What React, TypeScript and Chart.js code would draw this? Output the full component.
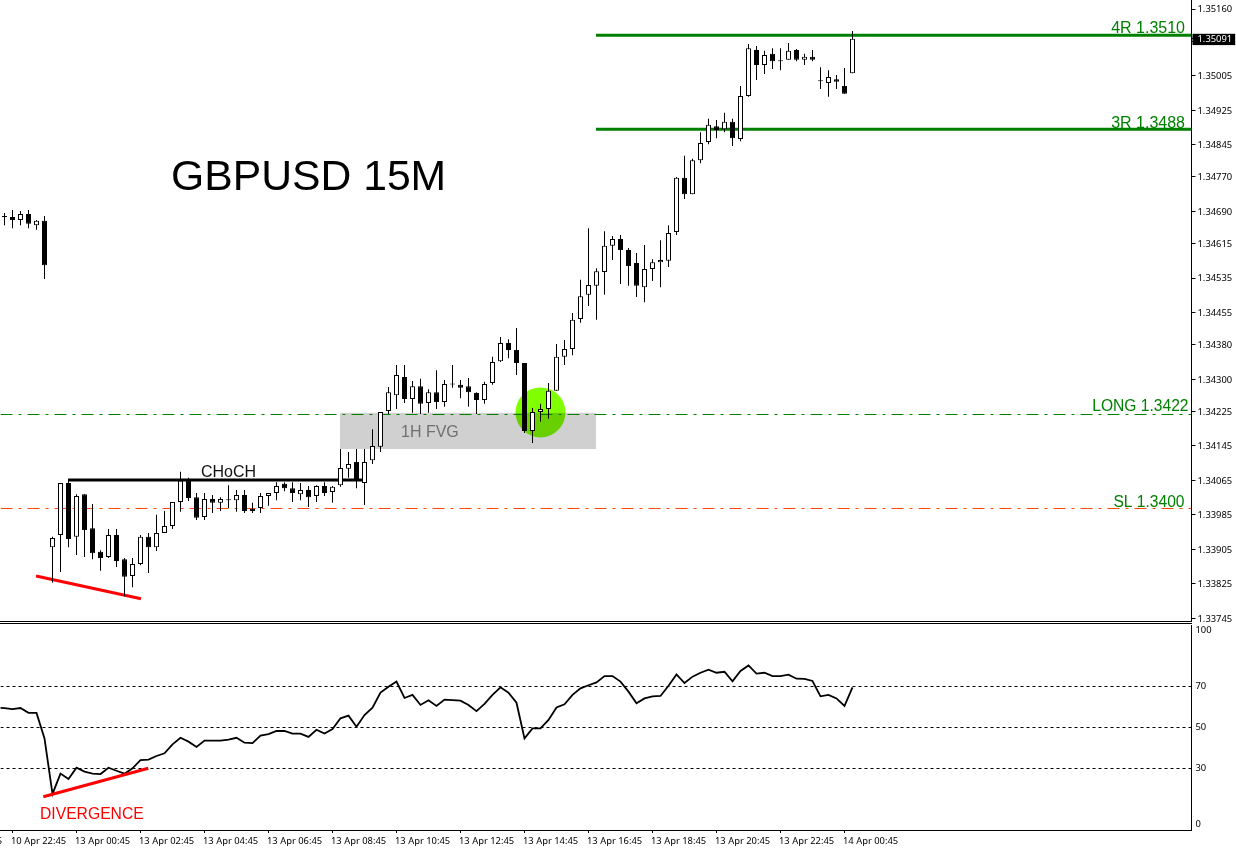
import { useEffect, useRef } from "react"
import { Chart, registerables } from "chart.js"

Chart.register(...registerables)

// prices in points (1/100000)
const opens = [
  134677, 134677, 134670, 134684, 134658, 134668, 133910, 133938, 134059, 133934, 134033, 133954, 133899, 133887,
  133938, 133882, 133843, 133871, 133934, 133910, 133943, 133959, 134015, 134064, 134026, 133980, 134022, 134013,
  134019, 134019, 134031, 133999, 134001, 134029, 134036, 134057, 134047, 134033, 134043, 134029, 134052, 134038,
  134054, 134092, 134108, 134059, 134112, 134143, 134226, 134263, 134305, 134254, 134284, 134245, 134270, 134247,
  134289, 134287, 134284, 134268, 134252, 134291, 134342, 134384, 134368, 134338, 134180, 134224, 134231, 134273,
  134352, 134370, 134440, 134496, 134517, 134549, 134610, 134626, 134600, 134570, 134514, 134556, 134572, 134575,
  134642, 134768, 134730, 134809, 134851, 134888, 134881, 134898, 134858, 134958, 135065, 135030, 135056, 135039,
  135042, 135065, 135042, 135049, 134993, 134988, 134997, 134981, 135011,
]
const closes = [
  134678, 134670, 134684, 134661, 134668, 134565, 133931, 134059, 133929, 134029, 133950, 133896, 133885, 133938,
  133878, 133841, 133871, 133934, 133910, 133943, 133959, 134015, 134064, 134024, 133978, 134022, 134013, 134022,
  134020, 134031, 133994, 133994, 134029, 134036, 134052, 134047, 134036, 134043, 134026, 134052, 134036, 134050,
  134094, 134103, 134068, 134108, 134145, 134224, 134270, 134310, 134254, 134284, 134243, 134270, 134247, 134289,
  134288, 134280, 134270, 134252, 134289, 134340, 134384, 134368, 134338, 134180, 134224, 134231, 134273, 134352,
  134370, 134438, 134493, 134519, 134551, 134610, 134626, 134600, 134563, 134517, 134556, 134572, 134577, 134640,
  134768, 134730, 134809, 134849, 134891, 134879, 134898, 134860, 134958, 135069, 135030, 135053, 135039, 135040,
  135063, 135042, 135049, 135042, 134992, 135002, 134991, 134963, 135091,
]
const highs = [
  134686, 134693, 134691, 134693, 134670, 134679, 133934, 134059, 134064, 134033, 134033, 134010, 133903, 133952,
  133952, 133885, 133885, 133938, 133943, 133985, 133994, 134015, 134085, 134071, 134036, 134036, 134031, 134026,
  134054, 134043, 134043, 134013, 134036, 134036, 134061, 134061, 134061, 134059, 134052, 134054, 134061, 134052,
  134138, 134131, 134138, 134138, 134184, 134224, 134282, 134333, 134333, 134296, 134301, 134277, 134321, 134298,
  134333, 134298, 134303, 134270, 134294, 134352, 134398, 134393, 134419, 134338, 134233, 134243, 134291, 134382,
  134391, 134454, 134531, 134651, 134558, 134644, 134633, 134635, 134605, 134593, 134612, 134579, 134623, 134658,
  134770, 134819, 134812, 134874, 134905, 134902, 134919, 134905, 134981, 135079, 135074, 135063, 135069, 135069,
  135081, 135067, 135056, 135065, 135025, 135018, 135007, 135023, 135109,
]
const lows = [
  134658, 134651, 134658, 134651, 134647, 134533, 133827, 133852, 133910, 133892, 133887, 133882, 133855, 133885,
  133864, 133796, 133817, 133868, 133850, 133901, 133943, 133952, 133992, 134017, 133973, 133973, 133989, 133994,
  134001, 133992, 133989, 133989, 133989, 134006, 134019, 134040, 134015, 134019, 134003, 134015, 134029, 134013,
  134050, 134071, 134047, 134008, 134103, 134131, 134219, 134231, 134245, 134222, 134219, 134222, 134231, 134236,
  134280, 134256, 134236, 134219, 134243, 134287, 134340, 134349, 134310, 134175, 134152, 134201, 134208, 134273,
  134333, 134356, 134431, 134470, 134438, 134496, 134577, 134521, 134517, 134491, 134479, 134528, 134514, 134561,
  134635, 134719, 134730, 134802, 134846, 134860, 134874, 134842, 134853, 134956, 134995, 135009, 135021, 135018,
  135042, 135039, 135030, 135039, 134974, 134956, 134974, 134963, 135011,
]
// first value belongs to the bar just left of the window
const rsi = [
  59.6, 59.5, 59.0, 59.5, 57.2, 57.1, 44.7, 17.6, 27.5, 24.9, 30.4, 28.5, 27.5, 27.3, 30.4, 28.9, 27.5, 30.1, 34.1,
  34.3, 36.1, 37.4, 41.8, 45.0, 43.1, 40.5, 43.6, 43.6, 43.6, 44.1, 45.0, 42.6, 42.4, 46.0, 46.8, 48.3, 48.4, 47.0,
  47.0, 45.4, 48.9, 47.1, 49.3, 54.5, 55.8, 50.4, 56.1, 59.7, 67.0, 69.9, 72.4, 64.4, 65.9, 61.0, 63.3, 60.5, 63.6,
  63.4, 63.1, 61.0, 58.0, 61.5, 65.9, 69.6, 67.0, 62.1, 44.7, 49.6, 49.6, 53.7, 59.8, 61.3, 65.9, 69.1, 70.6, 72.0,
  75.1, 75.1, 72.4, 67.5, 61.8, 64.2, 65.2, 65.4, 70.4, 75.9, 71.7, 74.8, 76.7, 78.2, 76.7, 77.2, 72.5, 77.6, 80.3,
  76.3, 76.7, 75.1, 75.1, 75.8, 73.8, 73.7, 72.7, 65.2, 65.9, 64.2, 60.5, 69.6,
]

const priceTicks = [
  1.3516, 1.35085, 1.35005, 1.34925, 1.34845, 1.3477, 1.3469, 1.34615, 1.34535, 1.34455, 1.3438, 1.343, 1.34225,
  1.34145, 1.34065, 1.33985, 1.33905, 1.33825, 1.33745,
]
const lastPrice = 1.35091
const timeTickBars = [-7, 1, 9, 17, 25, 33, 41, 49, 57, 65, 73, 81, 89, 97, 105]
const timeTicks = [
  "10 Apr 20:45", "10 Apr 22:45", "13 Apr 00:45", "13 Apr 02:45", "13 Apr 04:45", "13 Apr 06:45", "13 Apr 08:45",
  "13 Apr 10:45", "13 Apr 12:45", "13 Apr 14:45", "13 Apr 16:45", "13 Apr 18:45", "13 Apr 20:45", "13 Apr 22:45",
  "14 Apr 00:45",
]
const rsiLevels = [70, 50, 30]

const targetLines = [
  { from: 73.94, to: 148.375, price: 1.35099 },
  { from: 73.94, to: 148.375, price: 1.34881 },
]
const entryLine = { from: -0.5, to: 148.375, price: 1.342181 }
const stopLine = { from: -0.5, to: 148.375, price: 1.339998 }
const chochLine = { from: 7.94, to: 44.7, price: 1.34066 }
const priceDivergence = { from: 3.94, to: 17.06, start: 1.33843, end: 1.3379 }
const rsiDivergence = { from: 4.85, to: 17.98, start: 16.2, end: 30.1 }
const fvgZone = { from: 41.94, to: 73.94, high: 1.34222, low: 1.34138 }
const entrySpot = { bar: 67, price: 1.34223 }

const priceNotes = [
  { text: "GBPUSD 15M", x: 171, y: 190, size: 42.7, color: "#000", align: "left" },
  { text: "4R 1.3510", x: 1185, y: 33, size: 16, color: "#008000", align: "right" },
  { text: "3R 1.3488", x: 1185, y: 128, size: 16, color: "#008000", align: "right" },
  { text: "LONG 1.3422", x: 1188.5, y: 411, size: 15.6, color: "#008000", align: "right" },
  { text: "SL 1.3400", x: 1184.5, y: 507, size: 15.6, color: "#008000", align: "right" },
  { text: "CHoCH", x: 201, y: 477, size: 16, color: "#111", align: "left" },
  { text: "1H FVG", x: 401, y: 437, size: 16, color: "#707070", align: "left" },
]
const rsiNotes = [{ text: "DIVERGENCE", x: 40, y: 195, size: 15.7, color: "#ff0000", align: "left" }]

const axisFont = { family: "'Noto Sans', sans-serif", size: 9.4 }

const noPadding = (scale: any) => {
  scale.paddingTop = 0
  scale.paddingBottom = 0
  scale.paddingLeft = 0
  scale.paddingRight = 0
}

const notesPlugin = (notes: typeof priceNotes) => ({
  id: "notes",
  afterDatasetsDraw(chart: Chart) {
    const { ctx } = chart
    ctx.save()
    ctx.textBaseline = "alphabetic"
    notes.forEach((n) => {
      ctx.font = `${n.size}px 'Liberation Sans', Arial, sans-serif`
      ctx.fillStyle = n.color
      ctx.textAlign = n.align as CanvasTextAlign
      ctx.fillText(n.text, n.x, n.y)
    })
    ctx.restore()
  },
})

// grey gap zone and green entry circle sit behind the candles
const zonePlugin = {
  id: "zone",
  beforeDatasetsDraw(chart: Chart) {
    const { ctx, scales } = chart
    const left = scales.x.getPixelForValue(fvgZone.from)
    const right = scales.x.getPixelForValue(fvgZone.to)
    const top = scales.y.getPixelForValue(fvgZone.high)
    const bottom = scales.y.getPixelForValue(fvgZone.low)
    ctx.save()
    ctx.fillStyle = "#d0d0d0"
    ctx.fillRect(left, top, right - left, bottom - top)
    ctx.globalCompositeOperation = "multiply"
    ctx.fillStyle = "#80ff00"
    ctx.beginPath()
    ctx.arc(scales.x.getPixelForValue(entrySpot.bar), scales.y.getPixelForValue(entrySpot.price), 25, 0, Math.PI * 2)
    ctx.fill()
    ctx.restore()
  },
}

const segment = (from: number, to: number, start: number, end: number, color: string, width: number, dash: number[] = []) => ({
  type: "line" as const,
  data: [
    { x: from, y: start },
    { x: to, y: end },
  ],
  borderColor: color,
  borderWidth: width,
  borderDash: dash,
  pointRadius: 0,
  order: 2,
})

export default function App() {
  const priceRef = useRef<HTMLCanvasElement>(null)
  const rsiRef = useRef<HTMLCanvasElement>(null)

  useEffect(() => {
    if (!priceRef.current || !rsiRef.current) return

    const bars = opens.map((_, i) => i)
    const priceChart = new Chart(priceRef.current, {
      type: "bar",
      data: {
        datasets: [
          {
            data: bars.map((i) => ({ x: i, y: [opens[i] / 1e5, closes[i] / 1e5] })),
            backgroundColor: bars.map((i) => (closes[i] >= opens[i] ? "#fff" : "#000")),
            borderColor: "#000",
            borderWidth: 1,
            borderSkipped: false,
            barThickness: 5,
            minBarLength: 1,
            inflateAmount: 0,
            grouped: false,
            order: 0,
          },
          {
            data: bars.map((i) => ({ x: i, y: [lows[i] / 1e5, highs[i] / 1e5] })),
            backgroundColor: "#000",
            barThickness: 1,
            inflateAmount: 0,
            grouped: false,
            order: 1,
          },
          ...targetLines.map((l) => segment(l.from, l.to, l.price, l.price, "#008000", 3)),
          segment(entryLine.from, entryLine.to, entryLine.price, entryLine.price, "#008000", 1, [12, 6, 3, 6]),
          segment(stopLine.from, stopLine.to, stopLine.price, stopLine.price, "#ff4500", 1, [12, 6, 3, 6]),
          segment(chochLine.from, chochLine.to, chochLine.price, chochLine.price, "#000", 3),
          segment(priceDivergence.from, priceDivergence.to, priceDivergence.start, priceDivergence.end, "#ff0000", 3),
        ] as any,
      },
      options: {
        responsive: false,
        animation: false,
        devicePixelRatio: 1,
        events: [],
        layout: { padding: { left: 0.5, top: 0, right: 0, bottom: 4 } },
        plugins: { legend: { display: false }, tooltip: { enabled: false } },
        scales: {
          x: { type: "linear", min: -0.5, max: 148.375, offset: false, display: false, grid: { offset: false } },
          y: {
            position: "right",
            min: 1.337384,
            max: 1.35181,
            afterBuildTicks: (scale) => {
              scale.ticks = [...priceTicks, lastPrice].map((value) => ({ value }))
            },
            afterFit: (scale) => {
              scale.width = 44.5
              noPadding(scale)
            },
            border: { color: "#000" },
            grid: { drawOnChartArea: false, tickLength: 4, color: "#000" },
            ticks: {
              autoSkip: false,
              padding: 2,
              labelOffset: 0.7,
              font: axisFont,
              color: (ctx: any) => (ctx.tick?.value === lastPrice ? "#fff" : "#000"),
              showLabelBackdrop: (ctx: any) => ctx.tick?.value === lastPrice,
              backdropColor: "#000",
              backdropPadding: { left: 5, right: 3, top: 0, bottom: 0 },
              callback: (value) => Number(value).toFixed(5),
            },
          },
        },
      },
      plugins: [zonePlugin, notesPlugin(priceNotes)],
    })

    const rsiChart = new Chart(rsiRef.current, {
      type: "line",
      data: {
        datasets: [
          {
            data: rsi.map((v, i) => ({ x: i - 1, y: v })),
            borderColor: "#000",
            borderWidth: 1.8,
            pointRadius: 0,
            order: 1,
          },
          ...rsiLevels.map((level) => ({
            ...segment(-0.5, 148.375, level, level, "#000", 1, [3, 3]),
            order: 3,
          })),
          { ...segment(rsiDivergence.from, rsiDivergence.to, rsiDivergence.start, rsiDivergence.end, "#ff0000", 3), order: 0 },
        ] as any,
      },
      options: {
        responsive: false,
        animation: false,
        devicePixelRatio: 1,
        events: [],
        layout: { padding: { left: 0.5, top: 1, right: 0, bottom: 0 } },
        plugins: { legend: { display: false }, tooltip: { enabled: false } },
        scales: {
          x: {
            type: "linear",
            min: -0.5,
            max: 148.375,
            afterBuildTicks: (scale) => {
              scale.ticks = timeTickBars.map((value) => ({ value }))
            },
            afterFit: (scale) => {
              scale.height = 21
              noPadding(scale)
            },
            border: { color: "#000" },
            grid: { drawOnChartArea: false, tickLength: 3, color: "#000" },
            ticks: {
              autoSkip: false,
              maxRotation: 0,
              align: "start",
              labelOffset: -1.5,
              padding: 3,
              color: "#000",
              font: axisFont,
              callback: (value) => timeTicks[timeTickBars.indexOf(Number(value))],
            },
          },
          y: {
            position: "right",
            min: 0,
            max: 100,
            // MT4 pulls the 100 and 0 labels inside the panel
            afterBuildTicks: (scale) => {
              scale.ticks = [97.4, 70, 50, 30, 3].map((value) => ({ value }))
            },
            afterFit: (scale) => {
              scale.width = 44.5
              noPadding(scale)
            },
            border: { color: "#000" },
            grid: { drawOnChartArea: false, drawTicks: false },
            ticks: {
              autoSkip: false,
              padding: 4,
              color: "#000",
              font: axisFont,
              callback: (value) => (Number(value) > 90 ? "100" : Number(value) < 10 ? "0" : String(value)),
            },
          },
        },
      },
      plugins: [notesPlugin(rsiNotes)],
    })

    return () => {
      priceChart.destroy()
      rsiChart.destroy()
    }
  }, [])

  return (
    <div style={{ position: "absolute", left: 0, top: 0, width: 1236, height: 851, background: "#fff", overflow: "hidden" }}>
      <div style={{ position: "absolute", left: 0, top: 621, width: 1192, height: 1, background: "#000" }} />
      <div style={{ position: "absolute", left: 0, top: 623, width: 1192, height: 1, background: "#000" }} />
      <canvas ref={priceRef} width={1236} height={625} style={{ position: "absolute", left: 0, top: 0 }} />
      <canvas ref={rsiRef} width={1236} height={227} style={{ position: "absolute", left: 0, top: 624 }} />
    </div>
  )
}
